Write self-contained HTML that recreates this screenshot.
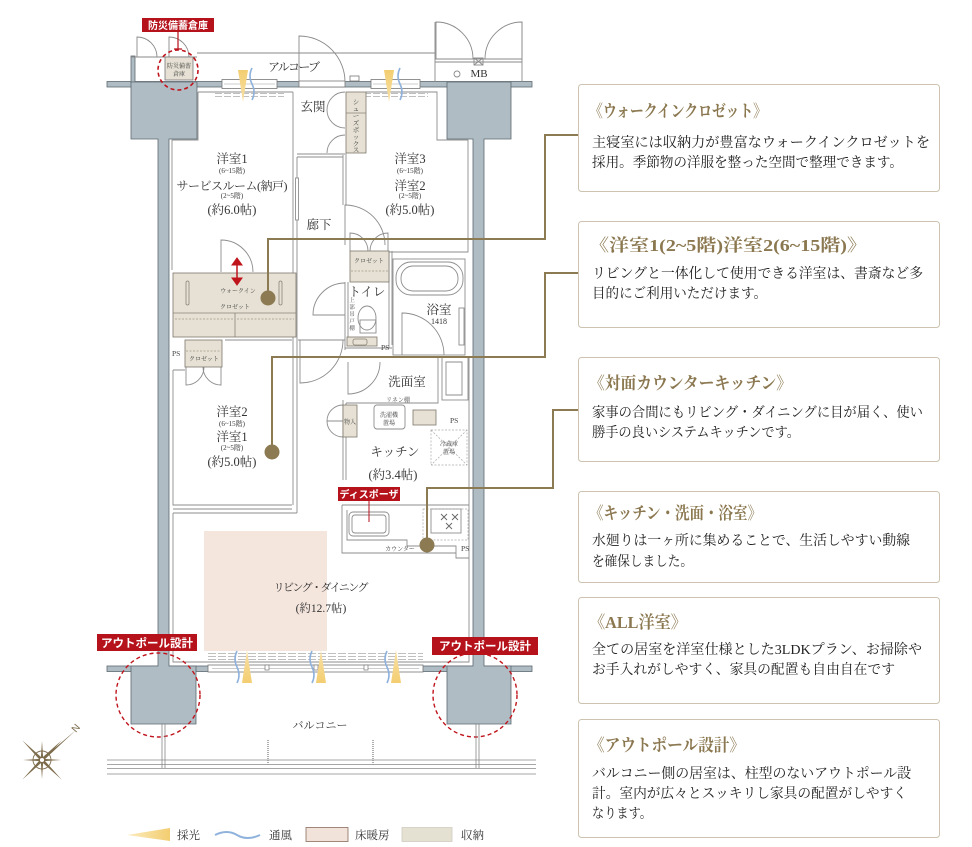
<!DOCTYPE html>
<html><head><meta charset="utf-8">
<style>
html,body{margin:0;padding:0;background:#fff;}
body{width:972px;height:847px;overflow:hidden;position:relative;}
svg{position:absolute;left:0;top:0;}
text{font-family:"Liberation Serif","Noto Serif CJK JP","Noto Serif CJK SC",serif;}
.sans{font-family:"Liberation Sans","Noto Sans CJK JP",sans-serif;}
</style></head><body>
<svg width="972" height="847" viewBox="0 0 972 847" xmlns="http://www.w3.org/2000/svg">
<defs>
<linearGradient id="yl" x1="0" y1="0" x2="0" y2="1"><stop offset="0" stop-color="#f3cd70"/><stop offset="1" stop-color="#f8e2a8"/></linearGradient>
<linearGradient id="yu" x1="0" y1="1" x2="0" y2="0"><stop offset="0" stop-color="#f3cd70"/><stop offset="1" stop-color="#f8e2a8"/></linearGradient>
<linearGradient id="yh" x1="0" y1="0" x2="1" y2="0"><stop offset="0" stop-color="#fbecc0"/><stop offset="1" stop-color="#f3cd70"/></linearGradient>
</defs>

<!-- floor heating -->
<rect x="204" y="531" width="123" height="120" fill="#f4e5dd"/>

<!-- exterior bands and columns -->
<g fill="#afbcc4" stroke="#5d6970" stroke-width="0.8">
<rect x="107" y="81.5" width="425" height="5.5"/>
<rect x="107" y="666" width="425" height="5.5"/>
<rect x="131" y="56" width="4" height="26"/>
<path d="M131,82H197V139H169V666H196V724H131V666H158V139H131Z"/>
<path d="M447,82H511V139H484V666H511V724H447V666H473V139H447Z"/>
</g>

<!-- top windows / door opening -->
<g stroke="#777" stroke-width="0.8" fill="#fff">
<rect x="222" y="79.5" width="55" height="9"/>
<rect x="371" y="79.5" width="49" height="9"/>
<rect x="299" y="81" width="46" height="6"/>
<rect x="350" y="76" width="9" height="5"/>
</g>
<g stroke="#999" stroke-width="0.6">
<line x1="224" y1="84" x2="275" y2="84"/><line x1="373" y1="84" x2="418" y2="84"/>
</g>
<g stroke="#aaa" stroke-width="0.8" stroke-dasharray="7,2">
<line x1="215" y1="93.5" x2="284" y2="93.5"/><line x1="215" y1="96.5" x2="284" y2="96.5"/>
<line x1="364" y1="93.5" x2="428" y2="93.5"/><line x1="364" y1="96.5" x2="428" y2="96.5"/>
</g>

<!-- bottom window -->
<rect x="208" y="665" width="215" height="7" fill="#fff" stroke="#777" stroke-width="0.8"/>
<line x1="212" y1="668.5" x2="419" y2="668.5" stroke="#999" stroke-width="0.6"/>
<g stroke="#aaa" stroke-width="0.8" stroke-dasharray="8,2">
<line x1="208" y1="653.5" x2="423" y2="653.5"/><line x1="208" y1="656.5" x2="423" y2="656.5"/><line x1="208" y1="659.5" x2="423" y2="659.5"/>
</g>
<g fill="#fff" stroke="#777" stroke-width="0.7">
<rect x="265" y="665" width="4" height="5"/><rect x="314" y="665" width="4" height="5"/><rect x="364" y="665" width="4" height="5"/>
</g>

<!-- alcove / top fixtures -->
<g fill="none" stroke="#8a8a8a" stroke-width="0.9">
<line x1="197" y1="53" x2="435" y2="53"/>
<path d="M299,82V36A46,46 0 0 1 345,82"/>
<path d="M137,57V37A20,20 0 0 1 157,57"/>
<path d="M169,57V37A20,20 0 0 1 189,57"/>
<line x1="131" y1="57" x2="197" y2="57"/>
<path d="M435,82V22M522,82V22"/>
<path d="M436,59V22A37,37 0 0 1 473,59"/>
<path d="M522,59V22A37,37 0 0 0 485,59"/>
<line x1="435" y1="59" x2="522" y2="59"/><line x1="435" y1="62" x2="522" y2="62"/>
<rect x="474" y="58" width="9" height="7"/>
<path d="M474,58L483,65M483,58L474,65"/>
<circle cx="457" cy="74" r="3"/>
</g>
<rect x="165" y="57" width="28" height="23" fill="#e6e1d4" stroke="#777" stroke-width="0.8"/>
<text x="179" y="68" font-size="6" text-anchor="middle" fill="#444">防災備蓄</text>
<text x="179" y="76" font-size="6" text-anchor="middle" fill="#444">倉庫</text>
<text x="479" y="77" font-size="11" text-anchor="middle" fill="#333">MB</text>
<text x="294" y="71" font-size="12" text-anchor="middle" fill="#333" textLength="52">アルコーブ</text>

<!-- red labels -->
<rect x="142" y="18" width="72" height="14" fill="#b5121b"/>
<text x="178" y="29" font-size="10" font-weight="bold" text-anchor="middle" fill="#fff" class="sans">防災備蓄倉庫</text>
<path d="M178,32V49M174,49H182" stroke="#b5121b" stroke-width="1.2"/>
<circle cx="178" cy="70" r="20" fill="none" stroke="#c0141c" stroke-width="1.6" stroke-dasharray="4,3"/>

<!-- interior walls -->
<g fill="none" stroke="#8d8d8d" stroke-width="0.9">
<path d="M198,92H293M198,92V140H172V270"/>
<path d="M293,92V505M297,157V513"/>
<rect x="295.5" y="178" width="3" height="42" fill="#fff"/>
<path d="M297,154H345M297,157H343"/>
<path d="M343,155V205M346,153V205"/>
<path d="M345,245V205A40,40 0 0 1 385,245"/>
<path d="M366,92H437V140H468V252H389"/>
<path d="M350,251V233A18,18 0 0 1 368,251M388,251V233A18,18 0 0 0 370,251"/>
<path d="M345,92A18,18 0 0 0 327,110M345,128A18,18 0 0 1 327,110M345,135A18,18 0 0 0 327,153"/>
<path d="M221,272V240A32,32 0 0 1 253,272"/>
<path d="M225,340H292M173,370H185M173,370V505H292"/>
<path d="M186,367V385A18,18 0 0 0 204,367M221,367V385A18,18 0 0 1 203,367"/>
<path d="M173,513V662H469V357"/>
<path d="M173,513H297M173,509H292"/>
<path d="M345,282V350M348,282V345M389,251V348M392,251V345M345,348H392"/>
<path d="M345,283A32,32 0 0 0 313,315H345"/>
<path d="M298,340H345"/>
<path d="M300,340V383A43,43 0 0 0 343,340"/>
<path d="M348,362V394A32,32 0 0 0 380,362"/>
<path d="M345,357H469M343,400V480M346,403V480M346,403H438V357"/>
<rect x="393" y="259" width="72" height="96"/>
<rect x="396" y="262" width="67" height="33" rx="15"/>
<rect x="401" y="266" width="57" height="25" rx="12"/>
<path d="M402,355V313A42,42 0 0 1 444,355"/>
<rect x="459" y="308" width="5" height="37"/>
<path d="M343,405A16,16 0 0 0 327,421H343M343,437A16,16 0 0 1 327,421"/>
<rect x="374" y="405" width="31" height="24" rx="3"/>
<rect x="442" y="357" width="26" height="43"/>
<path d="M446,362H462V395H446Z"/>
<ellipse cx="367" cy="318" rx="9" ry="12"/>
<rect x="360" y="320" width="16" height="13"/>
<path d="M342,505V553H456V558H469M342,505H469M347,510V540H407V546H456V553"/>
<rect x="349" y="512" width="40" height="24" rx="4"/>
<rect x="352" y="515" width="34" height="18" rx="3"/>
<rect x="431" y="509" width="30" height="24"/>
</g>
<g fill="none" stroke="#aaa" stroke-width="0.7" stroke-dasharray="2,1.5">
<rect x="423" y="509" width="45" height="31"/>
<rect x="431" y="430" width="36" height="35"/>
<path d="M431,430L467,465M467,430L431,465"/>
</g>
<g stroke="#666" stroke-width="0.9" fill="none">
<path d="M441,514l6,6m0,-6l-6,6M452,514l6,6m0,-6l-6,6M446,523l6,6m0,-6l-6,6"/>
</g>

<!-- storage -->
<g fill="#e6e1d4" stroke="#7e786c" stroke-width="0.8">
<rect x="346" y="92" width="20" height="61"/>
<rect x="173" y="273" width="123" height="64"/>
<rect x="185" y="340" width="37" height="27"/>
<rect x="350" y="251" width="39" height="31"/>
<rect x="347" y="337" width="30" height="9"/>
<rect x="343" y="405" width="14" height="32"/>
<rect x="413" y="410" width="23" height="15"/>
</g>
<g fill="none" stroke="#8a8478" stroke-width="0.8">
<path d="M173,313H296M235,313V337"/>
<path d="M346,113H366"/>
<rect x="186" y="281" width="3" height="24" rx="1.5"/><rect x="279" y="281" width="3" height="24" rx="1.5"/>
<rect x="353" y="339" width="14" height="6" rx="2"/>
</g>
<g stroke="#a09a8c" stroke-width="0.7" stroke-dasharray="2,1.5">
<line x1="175" y1="319" x2="233" y2="319"/><line x1="237" y1="319" x2="294" y2="319"/>
<line x1="186" y1="351" x2="221" y2="351"/><line x1="351" y1="271" x2="388" y2="271"/>
</g>

<!-- light and wind icons -->
<g fill="url(#yl)">
<polygon points="238,70 248,70 243,102"/>
<polygon points="384,70 394,70 389,102"/>
</g>
<g fill="url(#yu)">
<polygon points="242,683 252,683 247,650"/>
<polygon points="316,683 326,683 321,650"/>
<polygon points="391,683 401,683 396,650"/>
</g>
<g fill="none" stroke="#8fb2dc" stroke-width="1.6">
<path d="M252,68q-4,8 0,16t0,16"/>
<path d="M400,68q-4,8 0,16t0,16"/>
<path d="M237,651q-4,8 0,16t0,16"/>
<path d="M312,651q-4,8 0,16t0,16"/>
<path d="M387,651q-4,8 0,16t0,16"/>
</g>

<!-- red arrow -->
<g stroke="#c0141c" fill="#c0141c">
<line x1="237" y1="264" x2="237" y2="279" stroke-width="1.5"/>
<polygon points="232,265 242,265 237,258"/>
<polygon points="232,278 242,278 237,285"/>
</g>

<!-- disposer label -->
<rect x="338" y="487" width="62" height="14" fill="#b5121b"/>
<text x="369" y="498" font-size="10" font-weight="bold" text-anchor="middle" fill="#fff" class="sans">ディスポーザ</text>
<line x1="369" y1="501" x2="369" y2="522" stroke="#b5121b" stroke-width="1"/>

<!-- outpole labels and circles -->
<rect x="97" y="634" width="100" height="17" fill="#b5121b"/>
<text x="147" y="647" font-size="11.5" font-weight="bold" text-anchor="middle" fill="#fff" class="sans">アウトポール設計</text>
<rect x="432" y="637" width="106" height="18" fill="#b5121b"/>
<text x="485" y="650" font-size="11.5" font-weight="bold" text-anchor="middle" fill="#fff" class="sans">アウトポール設計</text>
<circle cx="158" cy="695" r="42" fill="none" stroke="#c0141c" stroke-width="1.4" stroke-dasharray="4,3"/>
<circle cx="475" cy="695" r="42" fill="none" stroke="#c0141c" stroke-width="1.4" stroke-dasharray="4,3"/>

<!-- balcony -->
<g stroke="#888" stroke-width="0.8" fill="none">
<line x1="107" y1="760" x2="536" y2="760"/><line x1="107" y1="764.5" x2="536" y2="764.5"/>
<line x1="107" y1="768.5" x2="536" y2="768.5"/><line x1="107" y1="774" x2="536" y2="774"/>
<path d="M162,724V768M165,724V768M476,724V768M479,724V768"/>
</g>
<g stroke="#999" stroke-width="1.6" stroke-dasharray="1,1">
<line x1="268" y1="740" x2="268" y2="766"/><line x1="373" y1="740" x2="373" y2="766"/>
</g>
<text x="320" y="729" font-size="11" text-anchor="middle" fill="#333" textLength="55">バルコニー</text>

<!-- room labels -->
<g fill="#333" text-anchor="middle">
<text x="232" y="163" font-size="12.5">洋室1</text>
<text x="232" y="173" font-size="7">(6~15階)</text>
<text x="232" y="190" font-size="12" textLength="111">サービスルーム(納戸)</text>
<text x="232" y="198" font-size="7">(2~5階)</text>
<text x="232" y="214" font-size="12.5">(約6.0帖)</text>
<text x="410" y="163" font-size="12.5">洋室3</text>
<text x="410" y="173" font-size="7">(6~15階)</text>
<text x="410" y="190" font-size="12.5">洋室2</text>
<text x="410" y="198" font-size="7">(2~5階)</text>
<text x="410" y="214" font-size="12.5">(約5.0帖)</text>
<text x="313" y="111" font-size="12.5">玄関</text>
<text x="319" y="229" font-size="12.5">廊下</text>
<text x="232" y="416" font-size="12.5">洋室2</text>
<text x="232" y="426" font-size="7">(6~15階)</text>
<text x="232" y="441" font-size="12.5">洋室1</text>
<text x="232" y="450" font-size="7">(2~5階)</text>
<text x="232" y="466" font-size="12.5">(約5.0帖)</text>
<text x="367" y="296" font-size="12.5">トイレ</text>
<text x="439" y="314" font-size="12.5">浴室</text>
<text x="439" y="324" font-size="8">1418</text>
<text x="407" y="386" font-size="12.5">洗面室</text>
<text x="395" y="456" font-size="12.5">キッチン</text>
<text x="393" y="479" font-size="12.5">(約3.4帖)</text>
<text x="321" y="591" font-size="11" textLength="95">リビング・ダイニング</text>
<text x="321" y="612" font-size="11.5">(約12.7帖)</text>
</g>
<g fill="#444" text-anchor="middle" font-size="6">
<text x="238" y="293">ウォークイン</text>
<text x="235" y="309">クロゼット</text>
<text x="204" y="361">クロゼット</text>
<text x="369" y="263">クロゼット</text>
<text x="398" y="402">リネン棚</text>
<text x="389" y="417">洗濯機</text>
<text x="389" y="425">置場</text>
<text x="350" y="424">物入</text>
<text x="449" y="446">冷蔵庫</text>
<text x="449" y="454">置場</text>
<text x="400" y="551">カウンター</text>
</g>
<g fill="#444" font-size="7.5">
<text x="172" y="356">PS</text>
<text x="381" y="350">PS</text>
<text x="450" y="423">PS</text>
<text x="461" y="551">PS</text>
</g>
<g fill="#444" font-size="6.5" text-anchor="middle">
<text x="356" y="104">シ</text><text x="356" y="111">ュ</text><text x="356" y="118">ー</text><text x="356" y="125">ズ</text><text x="356" y="132">ボ</text><text x="356" y="139">ッ</text><text x="356" y="146">ク</text><text x="356" y="152">ス</text>
<text x="352" y="302" font-size="5.5">上</text><text x="352" y="309" font-size="5.5">部</text><text x="352" y="316" font-size="5.5">吊</text><text x="352" y="323" font-size="5.5">戸</text><text x="352" y="330" font-size="5.5">棚</text>
</g>

<!-- connectors -->
<g fill="none" stroke="#8c7a52" stroke-width="2">
<path d="M268,298V239H545V135H578"/>
<path d="M272,452V357H545V273H578"/>
<path d="M427,545V488H553V410H578"/>
</g>
<g fill="#8c7a52">
<circle cx="268" cy="298" r="7.5"/>
<circle cx="272" cy="452" r="7.5"/>
<circle cx="427" cy="545" r="7.5"/>
</g>

<!-- compass -->
<g transform="translate(42,760)" fill="#7d6c4b">
<g transform="rotate(45)"><polygon points="0,-28 1.6,0 0,28 -1.6,0"/></g>
<g transform="rotate(-45)"><polygon points="0,-28 1.6,0 0,28 -1.6,0"/></g>
<polygon points="0,-19 1.3,0 0,19 -1.3,0"/>
<polygon points="-19,0 0,1.3 19,0 0,-1.3"/>
<polygon points="0,-1 34,-30 1,1"/>
<circle r="9" fill="none" stroke="#7d6c4b" stroke-width="0.9"/>
<circle r="2.5" fill="#fff" stroke="#7d6c4b" stroke-width="0.9"/>
<text x="0" y="0" font-size="10" fill="#7d6c4b" transform="translate(34,-27) rotate(-50)" class="sans">N</text>
</g>

<!-- legend -->
<polygon points="127,835 170,828 170,841" fill="url(#yh)"/>
<path d="M215,835q12,-6 22,0t23,0" fill="none" stroke="#8fb2dc" stroke-width="2"/>
<rect x="306" y="827.5" width="42" height="14" fill="#f1e2da" stroke="#8a6d5e" stroke-width="0.8"/>
<rect x="402" y="827.5" width="50" height="14" fill="#e4e0d2" stroke="#d0ccc0" stroke-width="0.8"/>
<g fill="#333" font-size="11.5">
<text x="177" y="839">採光</text>
<text x="269" y="839">通風</text>
<text x="355" y="839">床暖房</text>
<text x="461" y="839">収納</text>
</g>

<!-- panels -->
<g fill="#fff" stroke="#cdc3b0" stroke-width="1">
<rect x="578.5" y="84.5" width="361" height="107" rx="3"/>
<rect x="578.5" y="221.5" width="361" height="106" rx="3"/>
<rect x="578.5" y="357.5" width="361" height="104" rx="3"/>
<rect x="578.5" y="491.5" width="361" height="91" rx="3"/>
<rect x="578.5" y="597.5" width="361" height="106" rx="3"/>
<rect x="578.5" y="719.5" width="361" height="118" rx="3"/>
</g>
<g fill="#8b7850" font-size="17" font-weight="bold">
<text x="589" y="117" textLength="178" lengthAdjust="spacingAndGlyphs">《ウォークインクロゼット》</text>
<text x="589" y="251" textLength="278" lengthAdjust="spacingAndGlyphs">《洋室1(2~5階)洋室2(6~15階)》</text>
<text x="589" y="389" textLength="203" lengthAdjust="spacingAndGlyphs">《対面カウンターキッチン》</text>
<text x="589" y="519" textLength="173" lengthAdjust="spacingAndGlyphs">《キッチン・洗面・浴室》</text>
<text x="589" y="628" textLength="98" lengthAdjust="spacingAndGlyphs">《ALL洋室》</text>
<text x="589" y="751" textLength="156" lengthAdjust="spacingAndGlyphs">《アウトポール設計》</text>
</g>
<g fill="#222" font-size="14">
<text x="592" y="147" textLength="338" lengthAdjust="spacingAndGlyphs">主寝室には収納力が豊富なウォークインクロゼットを</text>
<text x="592" y="167" textLength="311" lengthAdjust="spacingAndGlyphs">採用。季節物の洋服を整った空間で整理できます。</text>
<text x="592" y="278" textLength="331" lengthAdjust="spacingAndGlyphs">リビングと一体化して使用できる洋室は、書斎など多</text>
<text x="592" y="298" textLength="175" lengthAdjust="spacingAndGlyphs">目的にご利用いただけます。</text>
<text x="592" y="417" textLength="331" lengthAdjust="spacingAndGlyphs">家事の合間にもリビング・ダイニングに目が届く、使い</text>
<text x="592" y="437" textLength="208" lengthAdjust="spacingAndGlyphs">勝手の良いシステムキッチンです。</text>
<text x="592" y="545" textLength="318" lengthAdjust="spacingAndGlyphs">水廻りは一ヶ所に集めることで、生活しやすい動線</text>
<text x="592" y="566" textLength="101" lengthAdjust="spacingAndGlyphs">を確保しました。</text>
<text x="592" y="654" textLength="330" lengthAdjust="spacingAndGlyphs">全ての居室を洋室仕様とした3LDKプラン、お掃除や</text>
<text x="592" y="674" textLength="303" lengthAdjust="spacingAndGlyphs">お手入れがしやすく、家具の配置も自由自在です</text>
<text x="592" y="778" textLength="319" lengthAdjust="spacingAndGlyphs">バルコニー側の居室は、柱型のないアウトポール設</text>
<text x="592" y="798" textLength="315" lengthAdjust="spacingAndGlyphs">計。室内が広々とスッキリし家具の配置がしやすく</text>
<text x="592" y="818" textLength="60" lengthAdjust="spacingAndGlyphs">なります。</text>
</g>
</svg>
</body></html>
